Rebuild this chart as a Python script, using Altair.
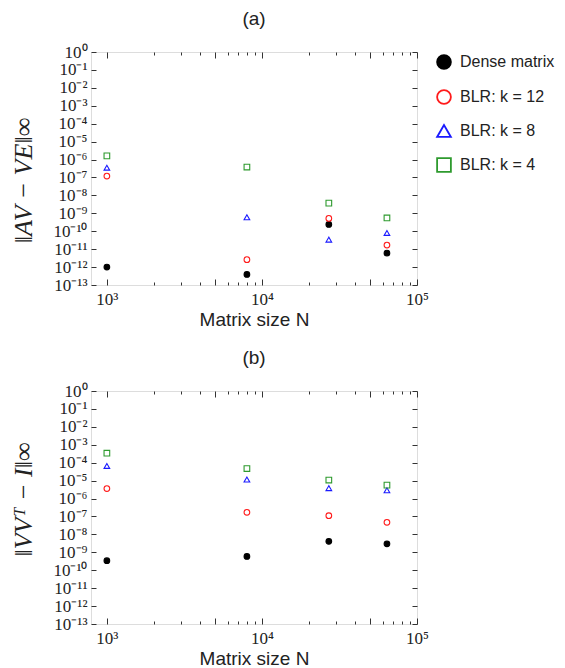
import altair as alt
import pandas as pd

# ---------------- data ----------------
N = [1000, 8000, 27000, 64000]
series = ["Dense matrix", "BLR: k = 12", "BLR: k = 8", "BLR: k = 4"]

a_dense = [1.0e-12, 3.9e-13, 2.4e-10, 6.0e-12]
a_k12 = [1.2e-7, 2.6e-12, 5.2e-10, 1.7e-11]
a_k8 = [3.5e-7, 6.0e-10, 3.4e-11, 8.0e-11]
a_k4 = [1.6e-6, 3.8e-7, 3.7e-9, 5.5e-10]

b_dense = [3.4e-10, 5.9e-10, 4.1e-9, 3.0e-9]
b_k12 = [3.6e-6, 1.7e-7, 1.1e-7, 4.7e-8]
b_k8 = [6.6e-5, 1.15e-5, 3.8e-6, 2.9e-6]
b_k4 = [3.4e-4, 4.7e-5, 1.07e-5, 5.6e-6]

x_major = [1000, 10000, 100000]
x_mid = [1000, 5000, 10000, 50000, 100000]
x_minor = [m * d for d in (1000, 10000) for m in range(2, 10) if m != 5]
y_decades = [10.0 ** e for e in range(-13, 1)]

stroke_colors = ["#000000", "#ff1a1a", "#1a1aff", "#2e9a2e"]
fill_colors = ["#000000", "transparent", "transparent", "transparent"]
shapes = ["circle", "circle", "triangle-up", "square"]


def frame(vals):
    rows = []
    for s, v in zip(series, vals):
        for n, y in zip(N, v):
            rows.append({"N": n, "val": y, "series": s})
    return pd.DataFrame(rows)


sup = "['⁰','¹','²','³','⁴','⁵','⁶','⁷','⁸','⁹']"
ex = "round(log(datum.value)/LN10)"
label_expr = (
    f"'10' + ({ex} < 0 ? '⁻' : '') + (abs({ex}) >= 10 ? '¹' : '') + "
    f"{sup}[abs({ex}) % 10]"
)

xscale = alt.Scale(type="log", domain=[790, 100000], nice=False)
yscale = alt.Scale(type="log", domain=[1e-13, 1], nice=False)

TICK = "#333333"


def tick_axis(orient, values, size):
    return alt.Axis(
        orient=orient, values=values, labels=False, domain=False, grid=False,
        ticks=True, tickSize=size, offset=-size, tickColor=TICK, tickWidth=1,
        title=None, zindex=2,
    )


def panel(vals, ytitle, ptitle, legend, title_y):
    df = frame(vals)
    base = alt.Chart(df)
    leg = (
        alt.Legend(
            title=None, orient="none", legendX=345, legendY=2,
            labelFont="Liberation Sans", labelFontSize=16, labelColor="#222222",
            symbolSize=190, symbolStrokeWidth=1.8, rowPadding=13,
            labelOffset=8,
        )
        if legend
        else None
    )
    enc_common = dict(
        color=alt.Color("series:N", scale=alt.Scale(domain=series, range=stroke_colors),
                        legend=leg, sort=series),
        fill=alt.Fill("series:N", scale=alt.Scale(domain=series, range=fill_colors),
                      legend=leg, sort=series),
        shape=alt.Shape("series:N", scale=alt.Scale(domain=series, range=shapes),
                        legend=leg, sort=series),
    )
    points = base.mark_point(filled=False, size=32, strokeWidth=1.1, opacity=1).encode(
        x=alt.X("N:Q", scale=xscale, axis=alt.Axis(
            orient="bottom", values=x_major, labelExpr=label_expr, ticks=False,
            domain=False, grid=False, labelFont="Liberation Serif", labelFontSize=17,
            labelColor="#222222", labelPadding=6, labelFlush=False, labelOverlap=False,
            title="Matrix size N", titleFont="Liberation Sans", titleFontSize=19,
            titleFontWeight="normal", titleColor="#222222", titlePadding=3)),
        y=alt.Y("val:Q", scale=yscale, axis=alt.Axis(
            orient="left", values=y_decades, labelExpr=label_expr, ticks=False,
            domain=False, grid=False, labelFont="Liberation Serif", labelFontSize=17,
            labelColor="#222222", labelPadding=4, labelFlush=False, labelOverlap=False,
            title=ytitle, titleFont="Liberation Serif", titleFontStyle="italic",
            titleFontSize=26, titleFontWeight="normal", titleColor="#222222",
            titlePadding=16, titleY=title_y)),
        **enc_common,
    )
    ghost = base.mark_point(opacity=0, size=1)
    t1 = ghost.encode(
        x=alt.X("N:Q", scale=xscale, axis=tick_axis("bottom", x_minor, 3)),
        y=alt.Y("val:Q", scale=yscale, axis=tick_axis("left", y_decades, 5)),
    )
    t2 = ghost.encode(
        x=alt.X("N:Q", scale=xscale, axis=tick_axis("top", x_minor, 3)),
        y=alt.Y("val:Q", scale=yscale, axis=tick_axis("right", y_decades, 5)),
    )
    t3 = ghost.encode(
        x=alt.X("N:Q", scale=xscale, axis=tick_axis("bottom", x_mid, 6)),
        y=alt.Y("val:Q", scale=yscale, axis=None),
    )
    t4 = ghost.encode(
        x=alt.X("N:Q", scale=xscale, axis=tick_axis("top", x_mid, 6)),
        y=alt.Y("val:Q", scale=yscale, axis=None),
    )
    return (
        alt.layer(points, t1, t2, t3, t4)
        .resolve_axis(x="independent", y="independent")
        .properties(
            width=326, height=233,
            title=alt.TitleParams(ptitle, font="Liberation Sans", fontSize=19,
                                  fontWeight="normal", color="#222222", anchor="middle",
                                  offset=14),
        )
    )


pa = panel([a_dense, a_k12, a_k8, a_k4], "‖AV − VE‖∞", "(a)", True, 128)
pb = panel([b_dense, b_k12, b_k8, b_k4], "‖VVᵀ − I‖∞", "(b)", False, 108)

chart = (
    alt.vconcat(pa, pb, spacing=18)
    .resolve_scale(color="independent", fill="independent", shape="independent")
    .properties(padding={"left": 2, "top": 1, "right": 0, "bottom": 0})
    .configure_view(stroke="#333333", strokeWidth=1.3)
    .configure(background="white")
)

chart.save("out.html", embed_options={"renderer": "svg", "actions": False})
